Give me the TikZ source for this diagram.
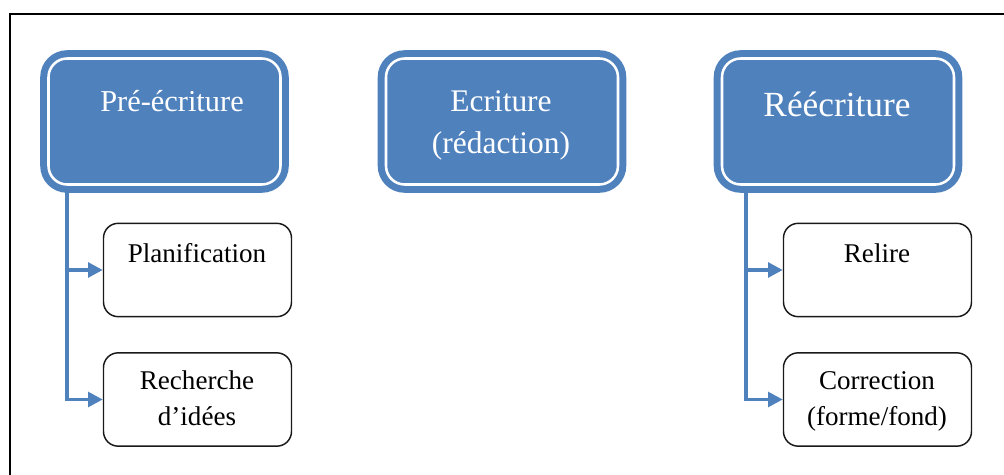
\documentclass[tikz,border=0pt]{standalone}
\usepackage{fontspec}
\setmainfont{Liberation Serif}
\usepackage{xcolor}
\usetikzlibrary{arrows.meta}
\definecolor{officeblue}{HTML}{4F81BD}

\begin{document}
\begin{tikzpicture}[x=0.75pt, y=-0.75pt,
        stage/.style={draw=officeblue, fill=officeblue, line width=5.25pt,
            double=white, double distance=1.9pt, rounded corners=14pt,
            minimum width=174pt, minimum height=94.5pt, inner sep=0pt},
        stagetxt/.style={text=white, align=center, anchor=base, inner sep=0pt},
        task/.style={draw=black!90, line width=1.1pt, rounded corners=11pt,
            minimum width=141pt, minimum height=70pt, inner sep=0pt},
        tasktxt/.style={align=center, anchor=base, inner sep=0pt,
            font=\fontsize{20.3}{26.3}\selectfont},
        flow/.style={draw=officeblue, line width=2.6pt,
            -{Triangle[length=11pt, width=11pt]}}]
    \useasboundingbox (0,0) rectangle (1004,475);
    % frame
    \draw[line width=1.5pt] (10,475) -- (10,14) -- (1004,14);

    % the three stages
    \node[stage] (pre) at (164.5,121.5) {};
    \node[stage] (ecr) at (502,121.5) {};
    \node[stage] (ree) at (838,121.5) {};
    \node[stagetxt, font=\fontsize{22.8}{27}\selectfont] (pretxt) at (172,111) {Pré-écriture};
    \node[stagetxt, font=\fontsize{23.6}{30.8}\selectfont] (ecrtxt) at (501,153) {Ecriture\\(rédaction)};
    \node[stagetxt, font=\fontsize{26.5}{30}\selectfont] (reetxt) at (837,116) {Réécriture};

    % sub tasks
    \node[task] (plan) at (197.5,270) {};
    \node[task] (rech) at (197.5,399.5) {};
    \node[task] (rel) at (877.5,270) {};
    \node[task] (corr) at (877.5,399.5) {};
    \node[tasktxt] (plantxt) at (197,262) {Planification};
    \node[tasktxt] (rechtxt) at (197,425) {Recherche\\d’idées};
    \node[tasktxt] (reltxt) at (877,262) {Relire};
    \node[tasktxt] (corrtxt) at (877,425) {Correction\\(forme/fond)};

    % links
    \coordinate (pret) at (67,192);
    \coordinate (reet) at (746,192);
    \draw[flow] (pret) |- (plan.west);
    \draw[flow] (pret) |- (rech.west);
    \draw[flow] (reet) |- (rel.west);
    \draw[flow] (reet) |- (corr.west);
\end{tikzpicture}
\end{document}
